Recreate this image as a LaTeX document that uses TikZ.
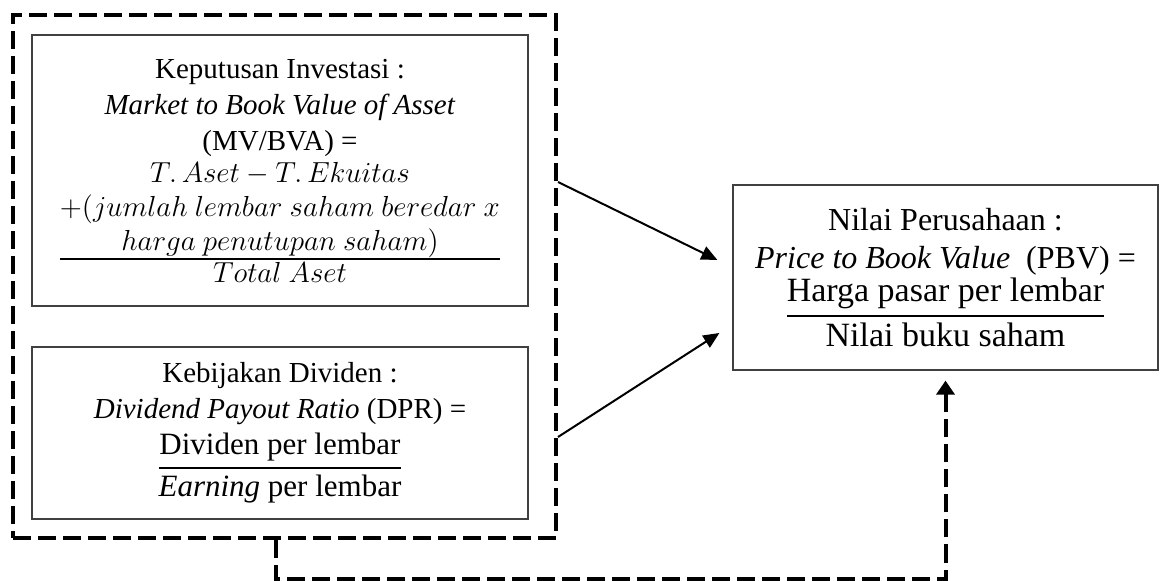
\RequirePackage{fix-cm}
\documentclass[tikz,border=0pt]{standalone}
\usepackage{amsmath}
\usepackage{fontspec}
\setmainfont{Liberation Serif}
\usetikzlibrary{arrows.meta,positioning,calc}

\newcommand{\pecahan}[3][0]{$\genfrac{}{}{1pt}{#1}{#2}{#3}$}
\newcommand{\hurufkiri}{\fontsize{14.5}{18}\selectfont}
\newcommand{\hurufkanan}{\fontsize{16}{19}\selectfont}

\tikzset{
    kotak/.style={draw=black!75, line width=0.6pt, align=center, inner sep=0pt},
    garis/.style={line width=1pt, -{Triangle[length=8pt,width=7pt]}},
    putus/.style={line width=2pt, dash pattern=on 9pt off 3.5pt},
}

\begin{document}
\begin{tikzpicture}[x=0.5pt,y=-0.5pt]
    \useasboundingbox (0,0) rectangle (1160,581);
    % variabel bebas
    \node[kotak, font=\hurufkiri, minimum width=248pt, minimum height=135.5pt] (investasi) at (280,170.5) {Keputusan Investasi :\\
        \textit{Market to Book Value of Asset}\\
        (MV/BVA) =\\[2pt]
        \pecahan[1]{\vbox{\baselineskip=17pt\halign{\hfil$#$\hfil\cr T.\,Aset-T.\,Ekuitas\cr +(jumlah\ lembar\ saham\ beredar\ x\cr harga\ penutupan\ saham)\cr}\vskip-1.5pt}}{\textstyle Total\ Aset}};
    \node[kotak, font=\hurufkiri, minimum width=248pt, minimum height=86pt] (dividen) at (280,433) {Kebijakan Dividen :\\
        \textit{Dividend Payout Ratio} (DPR) =\\[3pt]
        \pecahan{\mbox{\fontsize{15.5}{18}\selectfont Dividen per lembar}}{\mbox{\fontsize{15.5}{18}\selectfont\textit{Earning} per lembar}}};
    \node[putus, draw, minimum width=271.5pt, minimum height=261.5pt] (bebas) at (284.5,276.5) {};
    % variabel terikat
    \node[kotak, font=\hurufkanan, minimum width=212.5pt, minimum height=92.5pt] (nilai) at (945.5,277.5) {Nilai Perusahaan :\\
        \textit{Price to Book Value}~~(PBV) =\\
        \pecahan{\mbox{\fontsize{17}{20}\selectfont Harga pasar per lembar}}{\mbox{\fontsize{17}{20}\selectfont Nilai buku saham}}};
    % panah
    \draw[garis] ([yshift=47.25pt]bebas.east) -- ([xshift=-7.5pt,yshift=8.75pt]nilai.west);
    \draw[garis] ([yshift=-80.25pt]bebas.east) -- ([xshift=-6.5pt,yshift=-27.75pt]nilai.west);
    \draw[putus, -{Triangle[length=7pt,width=9pt]}] ([xshift=-4.25pt]bebas.south) -- ++(0,39) -| ([yshift=-5pt]nilai.south);
\end{tikzpicture}
\end{document}
